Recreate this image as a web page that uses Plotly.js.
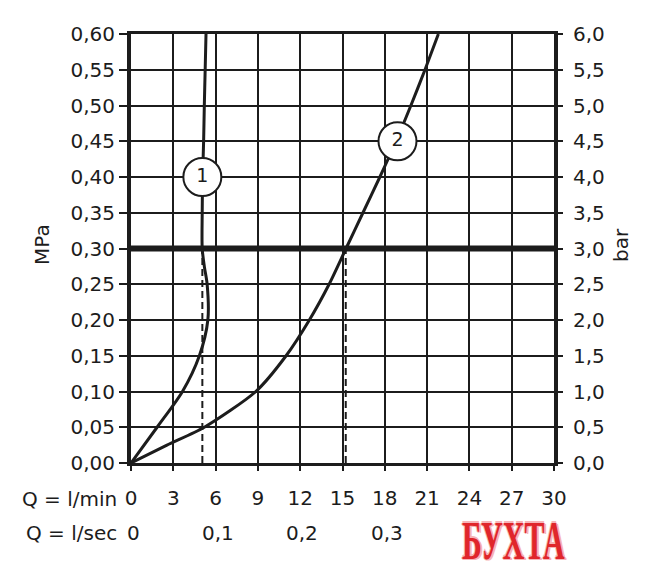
<!DOCTYPE html>
<html>
<head>
<meta charset="utf-8">
<script src="https://cdn.plot.ly/plotly-3.0.1.min.js"></script>
<style>
  html, body { margin: 0; padding: 0; background: #fff; }
  #wrap { position: relative; width: 656px; height: 571px; }
  #chart { width: 656px; height: 571px; }
  #mark { position: absolute; left: 462px; top: 519px; font-family: "Liberation Serif", serif; font-weight: bold; font-size: 30px; line-height: 24px; color: #e0262b; transform: scale(1, 1.8); transform-origin: left top; white-space: nowrap;
    text-shadow: 1px 0 0 #f6b5b8, -1px 0 0 #f6b5b8, 0 1px 0 #f6b5b8, 0 -1px 0 #f6b5b8, 2px 1px 0 #f6b5b8; }
</style>
</head>
<body>
<div id="wrap">
  <div id="chart"></div>
  <div id="mark">БУХТА</div>
</div>
<script>
// ---- data ----
const lpmTicks = [0, 3, 6, 9, 12, 15, 18, 21, 24, 27, 30];
const lpsTickPos = [0, 6, 12, 18];            // l/min positions of the l/sec labels
const lpsTickText = ['0', '0,1', '0,2', '0,3'];
const mpaTicks = [0, 0.05, 0.10, 0.15, 0.20, 0.25, 0.30, 0.35, 0.40, 0.45, 0.50, 0.55, 0.60];
const barTicks = [0, 0.5, 1.0, 1.5, 2.0, 2.5, 3.0, 3.5, 4.0, 4.5, 5.0, 5.5, 6.0];

const curve1Q = [0, 1.85, 3.65, 4.85, 5.45, 5.4, 5.2, 5.05, 5.05, 5.08, 5.15, 5.2, 5.26, 5.32];
const curve1P = [0, 0.05, 0.10, 0.15, 0.20, 0.25, 0.275, 0.30, 0.35, 0.40, 0.45, 0.50, 0.55, 0.60];

const curve2Q = [0, 2.55, 5.2, 8.85, 11.0, 12.65, 14.05, 15.25, 16.45, 17.65, 18.8, 19.85, 20.85, 21.8];
const curve2P = [0, 0.025, 0.05, 0.10, 0.15, 0.20, 0.25, 0.30, 0.35, 0.40, 0.45, 0.50, 0.55, 0.60];

const operatingPressure = 0.30;               // MPa
const flowAtOperating = [5.06, 15.23];        // l/min, dashed drop lines
const curveLabels = ['1', '2'];
const labelQ = [5.06, 18.9];
const labelP = [0.40, 0.45];

const INK = '#1c1c1c';

const traces = [
  { x: [0, 30], y: [operatingPressure, operatingPressure], mode: 'lines',
    line: { color: INK, width: 6 }, hoverinfo: 'skip' },
  { x: [flowAtOperating[0], flowAtOperating[0]], y: [0, operatingPressure], mode: 'lines',
    line: { color: INK, width: 2, dash: '7px,4px' }, hoverinfo: 'skip' },
  { x: [flowAtOperating[1], flowAtOperating[1]], y: [0, operatingPressure], mode: 'lines',
    line: { color: INK, width: 2, dash: '7px,4px' }, hoverinfo: 'skip' },
  { x: curve1Q, y: curve1P, mode: 'lines', line: { color: INK, width: 3, shape: 'spline', smoothing: 0.8 } },
  { x: curve2Q, y: curve2P, mode: 'lines', line: { color: INK, width: 3, shape: 'spline', smoothing: 0.7 } },
  { x: labelQ, y: labelP, mode: 'markers+text', text: curveLabels, textposition: 'middle center',
    textfont: { family: 'DejaVu Sans', size: 19, color: INK },
    marker: { size: 38, color: '#ffffff', line: { color: INK, width: 2 } }, cliponaxis: false },
  { x: [0, 30], y: [0, 6], yaxis: 'y2', mode: 'markers', marker: { opacity: 0 }, hoverinfo: 'skip' }
];

const annotations = [
  { xref: 'paper', yref: 'paper', x: (42 - 131) / 423, y: (463 - 245) / 429, xanchor: 'center', yanchor: 'middle',
    text: 'MPa', textangle: -90, showarrow: false, font: { size: 20 } },
  { xref: 'paper', yref: 'paper', x: (621 - 131) / 423, y: (463 - 245) / 429, xanchor: 'center', yanchor: 'middle',
    text: 'bar', textangle: -90, showarrow: false, font: { size: 20 } },
  { xref: 'paper', yref: 'paper', x: (119 - 131) / 423, y: (463 - 499) / 429, xanchor: 'right', yanchor: 'middle',
    text: 'Q = l/min', showarrow: false },
  { xref: 'paper', yref: 'paper', x: (119 - 131) / 423, y: (463 - 533) / 429, xanchor: 'right', yanchor: 'middle',
    text: 'Q = l/sec', showarrow: false }
];
lpsTickPos.forEach((q, i) => {
  annotations.push({ xref: 'x', yref: 'paper', x: q, y: (463 - 533) / 429, xanchor: 'center', yanchor: 'middle',
    xshift: 2, text: lpsTickText[i], showarrow: false });
});

const axisCommon = {
  color: INK, linecolor: INK, tickcolor: INK, gridcolor: INK, zeroline: false, fixedrange: true
};

const layout = {
  width: 656, height: 571,
  margin: { l: 131, r: 102, t: 34, b: 108, pad: 0 },
  separators: ',.',
  showlegend: false,
  paper_bgcolor: '#ffffff', plot_bgcolor: '#ffffff',
  font: { family: 'DejaVu Sans', size: 20, color: INK },
  xaxis: Object.assign({}, axisCommon, {
    range: [0, 30], tickvals: lpmTicks, ticktext: lpmTicks.map(String),
    showgrid: true, gridwidth: 2, showline: true, linewidth: 3, mirror: true,
    ticks: 'outside', ticklen: 5, tickwidth: 2, ticklabelstandoff: 10
  }),
  yaxis: Object.assign({}, axisCommon, {
    range: [0, 0.6], tickvals: mpaTicks, tickformat: '.2f',
    showgrid: true, gridwidth: 2, showline: true, linewidth: 4,
    ticks: 'outside', ticklen: 8, tickwidth: 2
  }),
  yaxis2: Object.assign({}, axisCommon, {
    overlaying: 'y', side: 'right', range: [0, 6], tickvals: barTicks, tickformat: '.1f',
    showgrid: false, showline: true, linewidth: 4,
    ticks: 'outside', ticklen: 5, tickwidth: 2, ticklabelstandoff: 6
  }),
  annotations: annotations
};

Plotly.newPlot('chart', traces, layout, { staticPlot: true, displayModeBar: false });
</script>
</body>
</html>
